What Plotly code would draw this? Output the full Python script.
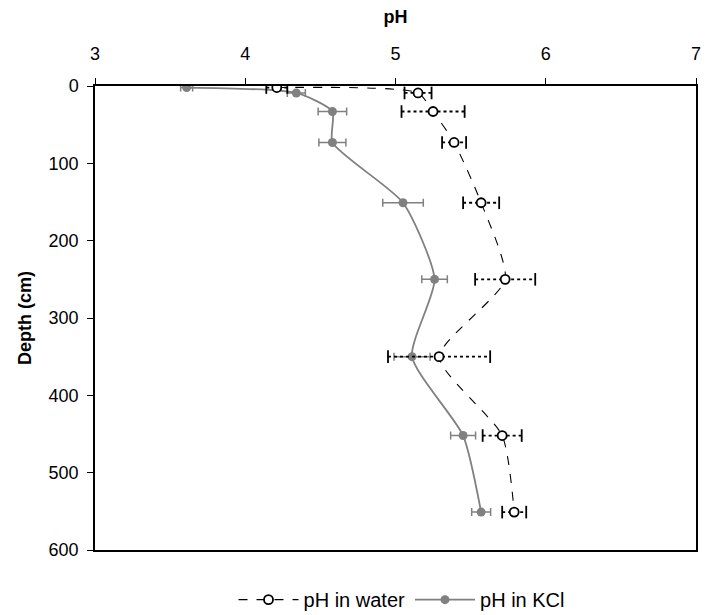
import plotly.graph_objects as go

depth = [2, 9, 33, 73, 151, 250, 350, 452, 551]
ph_water = [4.21, 5.15, 5.25, 5.39, 5.57, 5.73, 5.29, 5.71, 5.79]
err_water = [0.07, 0.09, 0.21, 0.08, 0.12, 0.20, 0.34, 0.13, 0.08]
ph_kcl = [3.61, 4.34, 4.58, 4.58, 5.05, 5.26, 5.11, 5.45, 5.57]
err_kcl = [0.04, 0.06, 0.095, 0.09, 0.135, 0.085, 0.12, 0.083, 0.063]

FONT = "Liberation Sans, Arial, sans-serif"

fig = go.Figure()

fig.add_trace(go.Scatter(
    x=ph_kcl, y=depth, mode="lines+markers", name="pH in KCl",
    line=dict(color="#808080", width=1.8, shape="spline", smoothing=0.6),
    marker=dict(color="#808080", size=9, symbol="circle"),
    error_x=dict(type="data", array=err_kcl, visible=True, color="#808080",
                 thickness=1.5, width=4),
))

seg_x, seg_y, cap_x, cap_y = [], [], [], []
for v, e, d in zip(ph_water, err_water, depth):
    seg_x += [v - e, v + e, None]
    seg_y += [d, d, None]
    cap_x += [v - e, v + e]
    cap_y += [d, d]
fig.add_trace(go.Scatter(
    x=seg_x, y=seg_y, mode="lines", showlegend=False, hoverinfo="skip",
    line=dict(color="black", width=1.8, dash="dot"),
))
fig.add_trace(go.Scatter(
    x=cap_x, y=cap_y, mode="markers", showlegend=False, hoverinfo="skip",
    marker=dict(symbol="line-ns", size=9, color="black",
                line=dict(color="black", width=1.8)),
))

fig.add_trace(go.Scatter(
    x=ph_water, y=depth, mode="lines+markers", name="pH in water",
    line=dict(color="black", width=1.1, dash="dash", shape="spline", smoothing=0.6),
    marker=dict(color="white", size=9, symbol="circle",
                line=dict(color="black", width=1.8)),
))

fig.update_layout(
    width=707, height=615,
    margin=dict(l=95, r=6, t=86, b=65),
    paper_bgcolor="white", plot_bgcolor="white",
    font=dict(family=FONT, size=18, color="black"),
    showlegend=True,
    legend=dict(orientation="h", x=0.51, xanchor="center",
                yref="container", y=0.025, yanchor="middle",
                traceorder="reversed", font=dict(size=20), itemwidth=60,
                bgcolor="rgba(0,0,0,0)"),
    xaxis=dict(
        side="top", range=[3, 7], dtick=1, tick0=3,
        showline=True, linecolor="black", linewidth=1.5, mirror=True,
        ticks="outside", ticklen=6, tickcolor="black", showgrid=False, zeroline=False,
        ticklabelstandoff=11,
        title=dict(text="<b>pH</b>", font=dict(size=18), standoff=16),
    ),
    yaxis=dict(
        range=[600, 0], dtick=100, tick0=0,
        showline=True, linecolor="black", linewidth=1.5, mirror=True,
        ticks="outside", ticklen=6, tickcolor="black", showgrid=False, zeroline=False,
        ticklabelstandoff=5,
        title=dict(text="<b>Depth (cm)</b>", font=dict(size=18), standoff=12),
    ),
)

fig.write_html("out.html")
